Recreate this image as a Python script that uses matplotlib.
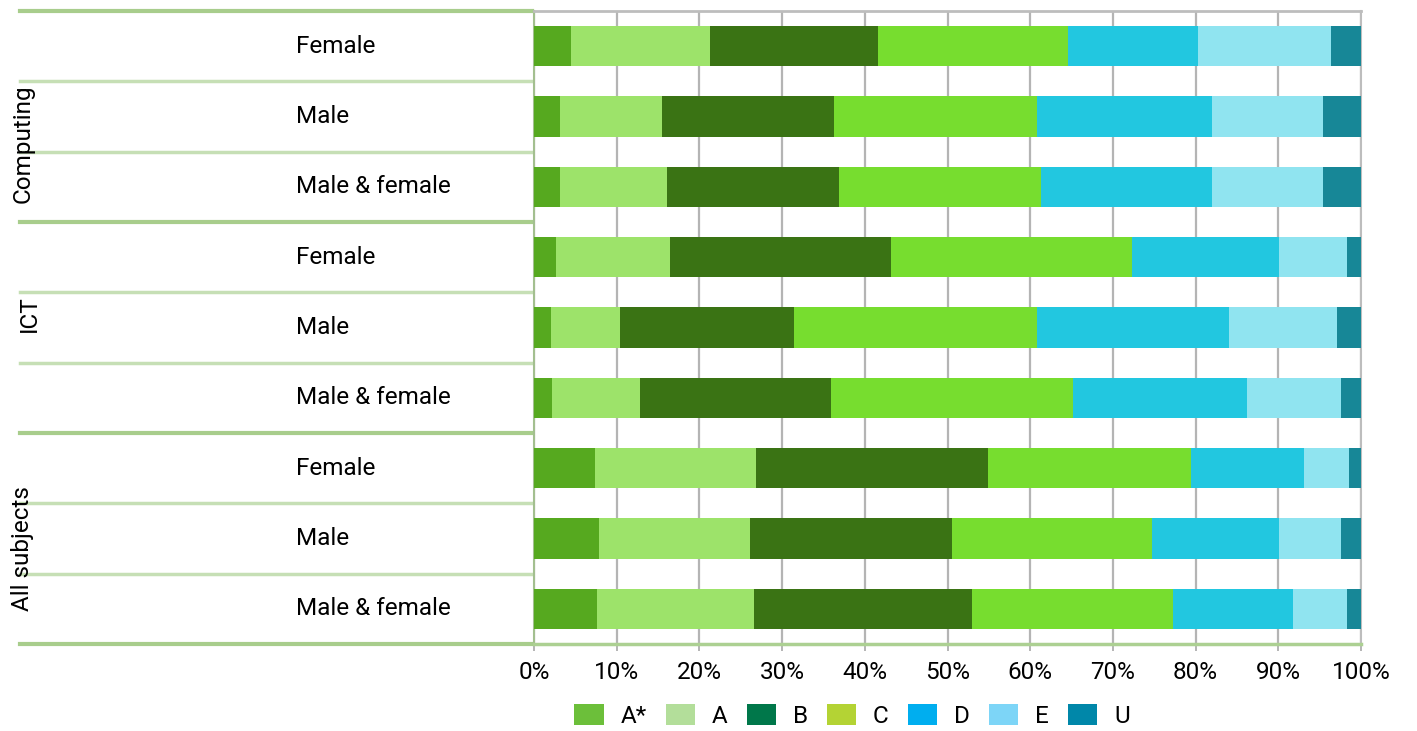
import matplotlib
matplotlib.use("Agg")
import matplotlib.pyplot as plt
from matplotlib.patches import Patch
from matplotlib.transforms import blended_transform_factory

# data: percentage of each grade, rows top to bottom
groups = ["Computing", "ICT", "All subjects"]
rows = ["Female", "Male", "Male & female"] * 3
grades = ["A*", "A", "B", "C", "D", "E", "U"]

a_star = [4.5, 3.1, 3.1, 2.7, 2.1, 2.2, 7.4, 7.9, 7.6]
a_grade = [16.8, 12.4, 13.0, 13.7, 8.3, 10.6, 19.4, 18.2, 19.0]
b_grade = [20.3, 20.8, 20.8, 26.8, 21.0, 23.1, 28.1, 24.4, 26.4]
c_grade = [23.0, 24.5, 24.4, 29.1, 29.4, 29.3, 24.5, 24.2, 24.3]
d_grade = [15.7, 21.2, 20.7, 17.8, 23.2, 21.0, 13.7, 15.4, 14.5]
e_grade = [16.1, 13.4, 13.4, 8.2, 13.1, 11.4, 5.4, 7.5, 6.5]
u_grade = [3.6, 4.6, 4.6, 1.7, 2.9, 2.4, 1.5, 2.4, 1.7]
series = [a_star, a_grade, b_grade, c_grade, d_grade, e_grade, u_grade]

bar_colors = ["#56a91f", "#9de36a", "#3a7314", "#77dd2f", "#22c7e0", "#90e4f0", "#178797"]
legend_colors = ["#6cbf3a", "#b3de9a", "#00774a", "#b4d334", "#00aeef", "#7dd5f7", "#0087a9"]

plt.rcParams["font.family"] = ["Roboto", "DejaVu Sans"]
fs = 17.5

fig = plt.figure(figsize=(14.17, 7.31), dpi=100)
ax = fig.add_axes([534 / 1417, 1 - 644 / 731, 827 / 1417, 633 / 731])

# stacked bars
y = list(range(len(rows)))
left = [0.0] * len(rows)
for vals, col in zip(series, bar_colors):
    ax.barh(y, vals, left=left, height=0.57, color=col, edgecolor="none", zorder=3)
    left = [l + v for l, v in zip(left, vals)]

ax.set_xlim(0, 100)
ax.set_ylim(8.5, -0.5)
ax.set_xticks(range(0, 101, 10))
ax.set_xticklabels([f"{t}%" for t in range(0, 101, 10)], fontsize=fs)
ax.tick_params(axis="x", length=5, width=1.2, color="#a8a8a8", pad=7)
ax.set_yticks([])
ax.xaxis.grid(True, color="#b4b4b4", lw=1.6)
ax.set_axisbelow(True)

ax.spines["top"].set_color("#bdbdbd")
ax.spines["top"].set_linewidth(2)
ax.spines["right"].set_color("#bdbdbd")
ax.spines["right"].set_linewidth(1.5)
ax.spines["left"].set_color("#a3bf8f")
ax.spines["left"].set_linewidth(1.5)
ax.spines["bottom"].set_color("#acd092")
ax.spines["bottom"].set_linewidth(2.5)

# category area on the left
trans = blended_transform_factory(ax.transAxes, ax.transData)
for i in range(len(rows) + 1):
    b = i - 0.5
    if i % 3 == 0:
        ax.plot([-0.621, -0.003], [b, b], transform=trans, color="#a8cd8c", lw=3, clip_on=False)
    else:
        ax.plot([-0.621, -0.003], [b, b], transform=trans, color="#c6dfb5", lw=2.5, clip_on=False)

for i, name in enumerate(rows):
    ax.text(-0.2878, i, name, transform=trans, ha="left", va="center", fontsize=fs)

group_pos = [1.38, 3.80, 7.14]
group_x = [-0.618, -0.610, -0.618]
for name, gy, gx in zip(groups, group_pos, group_x):
    ax.text(gx, gy, name, transform=trans, rotation=90, ha="center", va="center", fontsize=fs)

# legend uses its own palette
handles = [Patch(facecolor=c, edgecolor="none") for c in legend_colors]
fig.legend(handles, grades, loc="center", bbox_to_anchor=(852 / 1417, 1 - 716 / 731),
           ncol=7, frameon=False, fontsize=fs, handlelength=1.2, handleheight=0.95,
           handletextpad=0.7, columnspacing=0.78)

fig.savefig("out.png", dpi=100)
